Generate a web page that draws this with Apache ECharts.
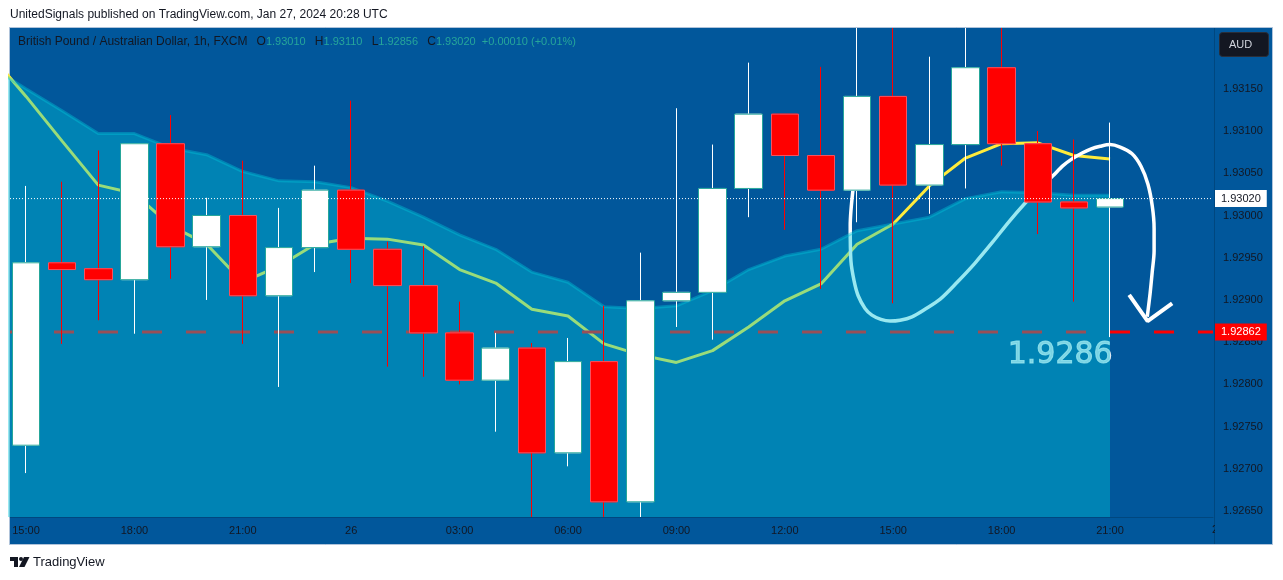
<!DOCTYPE html>
<html>
<head>
<meta charset="utf-8"/>
<title>GBPAUD 1h</title>
<script src="https://cdn.jsdelivr.net/npm/echarts@6/dist/echarts.min.js"></script>
<style>
    html, body { margin: 0; padding: 0; background: #fff; }
    #main { width: 1283px; height: 580px; }
</style>
</head>
<body>
<div id="main"></div>
<script>
// hourly bars
var opens  = [1.92728,1.92944,1.92937,1.92924,1.93085,1.92963,1.93000,1.92905,1.92962,1.93030,1.92960,1.92917,1.92861,1.92805,1.92843,1.92719,1.92827,1.92661,1.92899,1.92909,1.93032,1.93120,1.93071,1.93030,1.93141,1.93036,1.93084,1.93175,1.93085,1.93016,1.93010];
var closes = [1.92944,1.92936,1.92924,1.93085,1.92963,1.93000,1.92905,1.92962,1.93030,1.92960,1.92917,1.92861,1.92805,1.92843,1.92719,1.92827,1.92661,1.92899,1.92909,1.93032,1.93120,1.93071,1.93030,1.93141,1.93036,1.93084,1.93175,1.93085,1.93016,1.93009,1.93020];
var lows   = [1.92695,1.92848,1.92876,1.92860,1.92925,1.92900,1.92848,1.92797,1.92933,1.92920,1.92821,1.92809,1.92800,1.92744,1.92643,1.92703,1.92643,1.92643,1.92868,1.92853,1.92998,1.92983,1.92913,1.92992,1.92896,1.93002,1.93032,1.93059,1.92978,1.92898,1.92856];
var highs  = [1.93035,1.93040,1.93077,1.93085,1.93119,1.93021,1.93065,1.93009,1.93059,1.93136,1.92969,1.92964,1.92898,1.92861,1.92849,1.92855,1.92893,1.92956,1.93127,1.93084,1.93181,1.93120,1.93176,1.93222,1.93222,1.93188,1.93222,1.93222,1.93100,1.93090,1.93110];

// both start one bar before the first candle so they run in from the left edge
var bandValues = [1.93177,1.93150,1.93124,1.93097,1.93097,1.93080,1.93072,1.93052,1.93041,1.93040,1.93033,1.93017,1.92998,1.92977,1.92960,1.92933,1.92921,1.92892,1.92890,1.92893,1.92911,1.92936,1.92952,1.92960,1.92982,1.92990,1.92998,1.93020,1.93028,1.93027,1.93024,1.93024];
var maValues   = [1.93191,1.93141,1.93088,1.93036,1.93026,1.92988,1.92966,1.92921,1.92940,1.92966,1.92973,1.92972,1.92965,1.92936,1.92920,1.92889,1.92881,1.92848,1.92835,1.92826,1.92840,1.92868,1.92899,1.92919,1.92966,1.92990,1.93035,1.93068,1.93085,1.93086,1.93071,1.93067];

// hand drawn arrow, in bar number / price
var curveBars   = [22.89,22.81,22.83,22.92,23.03,23.22,23.41,23.66,23.91,24.19,24.52,24.88,25.30,25.77,26.27,26.76,27.23,27.79,28.42,28.70,28.95,29.23,29.48,29.73,30.00,30.28,30.61,30.86,31.05,31.17,31.22,31.22,31.17,31.11,31.03];
var curvePrices = [1.93032,1.92988,1.92946,1.92922,1.92905,1.92890,1.92882,1.92877,1.92875,1.92876,1.92880,1.92889,1.92901,1.92921,1.92944,1.92969,1.92994,1.93021,1.93047,1.93059,1.93067,1.93074,1.93079,1.93082,1.93084,1.93081,1.93073,1.93058,1.93037,1.93011,1.92985,1.92958,1.92934,1.92908,1.92880];
var headBars    = [30.53,31.04,31.72];
var headPrices  = [1.92906,1.92875,1.92896];

var timeTicks  = [0,3,6,9,12,15,18,21,24,27,30];
var timeLabels = ['15:00','18:00','21:00','26','03:00','06:00','09:00','12:00','15:00','18:00','21:00'];
var priceTicks = [1.9265,1.927,1.9275,1.928,1.9285,1.929,1.9295,1.93,1.9305,1.931,1.9315];
var lastPrice = 1.9302;
var targetPrice = 1.92862;

var xMin = -0.443, xMax = 32.85;
var yMin = 1.92643, yMax = 1.93222;
var font = 'Liberation Sans';
var ink = '#131722';

var wickData = opens.map(function (o, i) { return [i, o, closes[i], lows[i], highs[i]]; });
var bodyData = opens.map(function (o, i) {
    return [i, o, closes[i], Math.min(o, closes[i]), Math.max(o, closes[i])];
});
function fromBar(list, start) {
    return list.map(function (v, i) { return [i + start, v]; });
}
function pairs(xs, ys) {
    return xs.map(function (x, i) { return [x, ys[i]]; });
}

var myChart = echarts.init(document.getElementById('main'), null, { renderer: 'canvas' });
var option = {
    animation: false,
    backgroundColor: '#ffffff',
    title: [
        {
            text: 'UnitedSignals published on TradingView.com, Jan 27, 2024 20:28 UTC',
            left: 10, top: 8, padding: 0,
            textStyle: { fontFamily: font, fontSize: 12, fontWeight: 'normal', color: ink, lineHeight: 14 }
        },
        {
            text: '{k|British Pound / Australian Dollar, 1h, FXCM}   {k|O}{v|1.93010}   {k|H}{v|1.93110}   {k|L}{v|1.92856}   {k|C}{v|1.93020}  {v|+0.00010 (+0.01%)}',
            left: 18, top: 36, padding: 0,
            textStyle: {
                fontFamily: font, fontSize: 11, fontWeight: 'normal',
                rich: {
                    k: { fontFamily: font, fontSize: 12, color: ink },
                    v: { fontFamily: font, fontSize: 11, color: '#26A69A' }
                }
            }
        },
        {
            text: 'TradingView',
            left: 33, top: 555, padding: 0,
            textStyle: { fontFamily: font, fontSize: 13, fontWeight: 'normal', color: ink, lineHeight: 14 }
        }
    ],
    grid: { left: 10, right: 70, top: 28, bottom: 63 },
    xAxis: {
        type: 'value', min: xMin, max: xMax,
        splitLine: { show: false },
        axisLine: { show: true, onZero: false, lineStyle: { color: 'rgba(0,0,0,0.18)' } },
        axisTick: { show: false },
        axisLabel: {
            customValues: timeTicks,
            color: ink, fontFamily: font, fontSize: 11, margin: 8,
            formatter: function (v) { return timeLabels[timeTicks.indexOf(v)]; }
        }
    },
    yAxis: {
        type: 'value', position: 'right', min: yMin, max: yMax,
        splitLine: { show: false },
        axisLine: { show: false },
        axisTick: { show: false },
        axisLabel: {
            customValues: priceTicks,
            color: ink, fontFamily: font, fontSize: 11, margin: 10,
            formatter: function (v) { return v.toFixed(5); }
        }
    },
    // everything under the band shows through it, that is why the line goes from yellow to green
    series: [
        {
            name: 'ma', type: 'line', z: 1, data: fromBar(maValues, -1),
            symbol: 'none', lineStyle: { color: '#FFEB3B', width: 3 }
        },
        {
            name: 'target', type: 'line', z: 1,
            data: [[xMin, targetPrice], [xMax, targetPrice]],
            symbol: 'none',
            lineStyle: { color: '#FF0000', width: 3, type: [20, 24] },
            endLabel: {
                show: true, distance: 2, formatter: targetPrice.toFixed(5),
                color: '#fff', backgroundColor: '#FF0000', fontFamily: font, fontSize: 11, padding: [3, 6]
            }
        },
        {
            name: 'curve', type: 'line', z: 1, data: pairs(curveBars, curvePrices),
            symbol: 'none', smooth: 0.3, clip: false,
            lineStyle: { color: '#fff', width: 3.5 }
        },
        {
            name: 'head', type: 'line', z: 1, data: pairs(headBars, headPrices),
            symbol: 'none', clip: false,
            lineStyle: { color: '#fff', width: 4 }
        },
        {
            name: 'note', type: 'scatter', z: 1, symbolSize: 0,
            data: [[28.62, 1.92835]],
            label: {
                show: true, position: 'inside', formatter: '1.9286',
                color: '#fff', fontFamily: 'DejaVu Sans', fontSize: 30,
                textBorderColor: '#fff', textBorderWidth: 1
            }
        },
        {
            name: 'band', type: 'line', z: 2, data: fromBar(bandValues, -1),
            symbol: 'none',
            lineStyle: { color: 'rgba(0,197,217,0.4)', width: 3 },
            areaStyle: { color: 'rgba(0,197,217,0.4)', origin: 'start', opacity: 1 }
        },
        {
            name: 'wicks', type: 'candlestick', z: 3, data: wickData,
            encode: { x: 0, y: [1, 2, 3, 4] }, barWidth: 26,
            itemStyle: { color: '#fff', color0: '#FF0000', borderColor: '#fff', borderColor0: '#FF0000', borderWidth: 1 }
        },
        {
            name: 'bodies', type: 'candlestick', z: 4, data: bodyData,
            encode: { x: 0, y: [1, 2, 3, 4] }, barWidth: 28,
            itemStyle: { color: '#fff', color0: '#FF0000', borderColor: '#26A69A', borderColor0: '#F7525F', borderWidth: 1 }
        },
        {
            name: 'last', type: 'line', z: 5,
            data: [[xMin, lastPrice], [xMax, lastPrice]],
            symbol: 'none',
            lineStyle: { color: '#fff', width: 1, type: [1, 2] },
            endLabel: {
                show: true, distance: 2, formatter: lastPrice.toFixed(5),
                color: ink, backgroundColor: '#fff', fontFamily: font, fontSize: 11, padding: [3, 6]
            }
        }
    ],
    graphic: [
        {
            type: 'rect', z: -10, silent: true,
            shape: { x: 9.5, y: 27.5, width: 1263, height: 517 },
            style: { fill: '#01579B', stroke: '#AFC3DA', lineWidth: 1 }
        },
        // next day's label, cut by the price panel
        {
            type: 'text', z: 6, silent: true, x: 1218, y: 530,
            style: { text: '27', fill: ink, font: '11px "Liberation Sans"', align: 'center', verticalAlign: 'middle' }
        },
        {
            type: 'rect', z: 7, silent: true,
            shape: { x: 1215, y: 518, width: 57, height: 26 },
            style: { fill: '#01579B' }
        },
        {
            type: 'line', z: 8, silent: true,
            shape: { x1: 1214.5, y1: 28, x2: 1214.5, y2: 544 },
            style: { stroke: 'rgba(0,0,0,0.18)', lineWidth: 1 }
        },
        {
            type: 'rect', z: 7, silent: true,
            shape: { x: 1219.5, y: 32.5, width: 49, height: 24, r: 3 },
            style: { fill: ink, stroke: '#2A2E39', lineWidth: 1 }
        },
        {
            type: 'text', z: 8, silent: true, x: 1229, y: 39,
            style: { text: 'AUD', fill: '#D1D4DC', font: '11px "Liberation Sans"' }
        },
        // logo
        {
            type: 'polygon', z: 8, silent: true,
            shape: { points: [[10, 557], [18, 557], [18, 567], [14, 567], [14, 561], [10, 561]] },
            style: { fill: ink }
        },
        { type: 'circle', z: 8, silent: true, shape: { cx: 21, cy: 559, r: 2 }, style: { fill: ink } },
        {
            type: 'polygon', z: 8, silent: true,
            shape: { points: [[24, 557], [29.5, 557], [24.5, 567], [19, 567]] },
            style: { fill: ink }
        }
    ]
};
myChart.setOption(option);

window.onresize = function () {
    myChart.resize();
};
</script>
</body>
</html>
